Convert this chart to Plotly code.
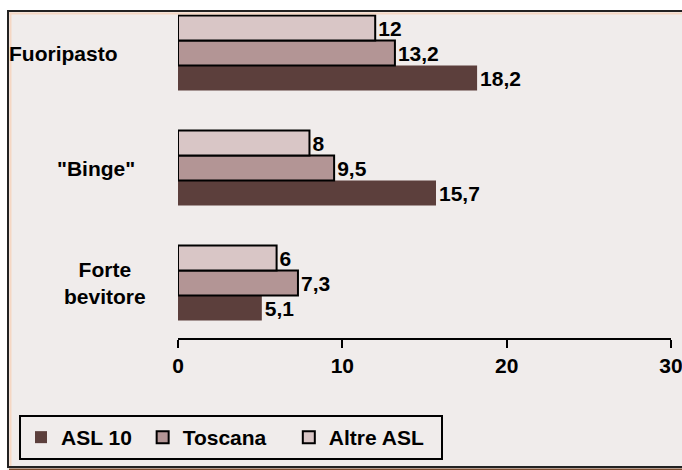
import plotly.graph_objects as go

categories = ["Forte bevitore", "\"Binge\"", "Fuoripasto"]
asl10 = [5.1, 15.7, 18.2]
toscana = [7.3, 9.5, 13.2]
altre = [6, 8, 12]
series_names = ["ASL 10\u00a0", "Toscana\u00a0\u00a0\u00a0", "Altre ASL\u00a0\u00a0"]
colors = ["#5C3F3C", "#B39595", "#D9C6C6"]
cat_labels = ["Forte<br>bevitore", "\"Binge\"", "Fuoripasto"]
xticks = [0, 10, 20, 30]

W, H = 682, 470
L, R, T, B = 178, 11, 11, 132
PW, PH = W - L - R, H - T - B
FONT = "Liberation Sans, Arial, sans-serif"

def px(x):
    return (x - L) / PW

def py(y):
    return (H - B - y) / PH

def fmt(v):
    return ("%g" % v).replace(".", ",")

fig = go.Figure()
for i, (name, vals, col) in enumerate(zip(series_names, [asl10, toscana, altre], colors)):
    outline = dict(color="black", width=2) if i > 0 else dict(color=col, width=0)
    fig.add_trace(go.Bar(
        y=categories, x=vals, name=name, orientation="h",
        marker=dict(color=col, line=outline),
        text=[fmt(v) for v in vals], textposition="outside", cliponaxis=False,
        textfont=dict(family=FONT, size=21, color="black", weight="bold"),
    ))

BG = "#F0ECEB"
shapes = [
    dict(type="rect", xref="paper", yref="paper", x0=px(0), x1=px(682), y0=py(10), y1=py(0),
         fillcolor="white", line=dict(width=0), layer="above"),
    dict(type="rect", xref="paper", yref="paper", x0=px(0), x1=px(7), y0=py(470), y1=py(0),
         fillcolor="white", line=dict(width=0), layer="above"),
    dict(type="line", xref="paper", yref="paper", x0=px(7), x1=px(682), y0=py(11), y1=py(11),
         line=dict(color="#222222", width=2), layer="above"),
    dict(type="line", xref="paper", yref="paper", x0=px(8), x1=px(8), y0=py(468), y1=py(10),
         line=dict(color="#222222", width=2), layer="above"),
    dict(type="line", xref="paper", yref="paper", x0=px(7), x1=px(682), y0=py(467), y1=py(467),
         line=dict(color="#222222", width=2), layer="above"),
    dict(type="line", xref="paper", yref="paper", x0=px(9), x1=px(682), y0=py(13.5), y1=py(13.5),
         line=dict(color="#F5D7C4", width=2), layer="above"),
    dict(type="line", xref="paper", yref="paper", x0=px(10.5), x1=px(10.5), y0=py(466), y1=py(12.5),
         line=dict(color="#F5D7C4", width=2), layer="above"),
    dict(type="line", xref="paper", yref="paper", x0=px(9), x1=px(682), y0=py(469.5), y1=py(469.5),
         line=dict(color="#7A4B2E", width=2), layer="above"),
]

annotations = []
centers_x = [105, 96, 63]
for lab, cx, cat in zip(cat_labels, centers_x, categories):
    annotations.append(dict(x=px(cx), xref="paper", y=cat, yref="y", text=lab, showarrow=False,
                            xanchor="center", yanchor="middle", align="center",
                            font=dict(family=FONT, size=21, color="black", weight="bold")))

fig.update_layout(
    width=W, height=H, margin=dict(l=L, r=R, t=T, b=B, autoexpand=False),
    paper_bgcolor=BG, plot_bgcolor=BG,
    barmode="group", bargap=0.348, bargroupgap=0,
    separators=",.",
    shapes=shapes, annotations=annotations,
    showlegend=True,
    legend=dict(orientation="h", x=px(19), y=py(415), xanchor="left", yanchor="top",
                bgcolor="rgba(0,0,0,0)", bordercolor="black", borderwidth=2,
                font=dict(family=FONT, size=21, color="black", weight="bold"),
                traceorder="normal", itemwidth=30),
    xaxis=dict(range=[0, 30], tickvals=xticks, showgrid=False, zeroline=False, mirror=False,
               showline=True, linecolor="black", linewidth=2, ticks="outside", ticklen=8,
               tickwidth=2, tickcolor="black", ticklabeloverflow="allow",
               tickfont=dict(family=FONT, size=21, color="black", weight="bold")),
    yaxis=dict(range=[-0.478, -0.478 + PH / 115], visible=False, showgrid=False,
               zeroline=False, showline=False),
)

fig.write_html("out.html")
